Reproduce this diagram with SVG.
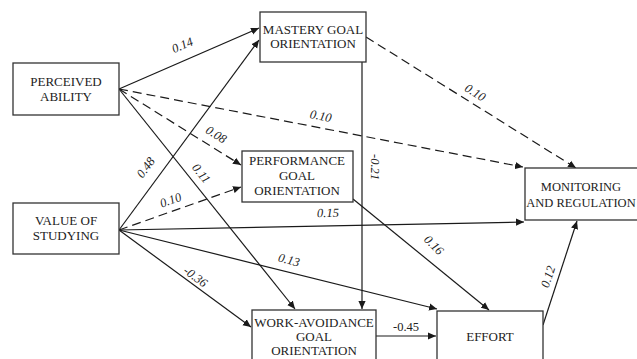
<svg xmlns="http://www.w3.org/2000/svg" width="637" height="359" viewBox="0 0 637 359">
<defs>
<marker id="ah" viewBox="0 0 10 10" refX="10" refY="5" markerWidth="8" markerHeight="8" markerUnits="userSpaceOnUse" orient="auto">
<path d="M0,0.5 L10,5 L0,9.5 Z" fill="#1a1a1a"/>
</marker>
<style>
.box{fill:#fff;stroke:#333;stroke-width:1.3}
.t{font-family:"Liberation Serif","Times New Roman",serif;font-size:13px;fill:#222;text-anchor:middle}
.l{font-family:"Liberation Serif","Times New Roman",serif;font-size:12.5px;fill:#222;text-anchor:middle;font-style:italic}
.s{fill:none;stroke:#1a1a1a;stroke-width:1.2;marker-end:url(#ah)}
.d{fill:none;stroke:#1a1a1a;stroke-width:1.2;stroke-dasharray:9,5;marker-end:url(#ah)}
</style>
</defs>
<rect width="637" height="359" fill="#fff"/>
<g id="connectors">
<line class="s" x1="119" y1="89" x2="259" y2="28"/>
<line class="d" x1="119" y1="89" x2="523" y2="167"/>
<line class="d" x1="119" y1="89" x2="241" y2="165"/>
<line class="s" x1="119" y1="89" x2="295" y2="309"/>
<line class="s" x1="119" y1="230" x2="259" y2="40"/>
<line class="d" x1="119" y1="230" x2="241" y2="187"/>
<line class="s" x1="119" y1="230" x2="524" y2="222"/>
<line class="s" x1="119" y1="230" x2="437" y2="309"/>
<line class="s" x1="119" y1="230" x2="251" y2="327"/>
<line class="d" x1="366" y1="37" x2="576" y2="168"/>
<line class="s" x1="362" y1="62" x2="362" y2="309"/>
<line class="s" x1="353" y1="199" x2="489" y2="310"/>
<line class="s" x1="376" y1="336" x2="436" y2="336"/>
<line class="s" x1="543" y1="325" x2="577" y2="221"/>
<text class="l" transform="translate(184,49) rotate(-23)">0.14</text>
<text class="l" transform="translate(320,120) rotate(11)">0.10</text>
<text class="l" transform="translate(214,138) rotate(32)">0.08</text>
<text class="l" transform="translate(198,176) rotate(51)">0.11</text>
<text class="l" transform="translate(149,170) rotate(-53)">0.48</text>
<text class="l" transform="translate(172,204) rotate(-20)">0.10</text>
<text class="l" transform="translate(328,217) rotate(-1)">0.15</text>
<text class="l" transform="translate(288,264) rotate(14)">0.13</text>
<text class="l" transform="translate(193,280) rotate(37)">-0.36</text>
<text class="l" transform="translate(473,96) rotate(32)">0.10</text>
<text class="l" transform="translate(371,167) rotate(90)">-0.21</text>
<text class="l" transform="translate(431,248) rotate(45)">0.16</text>
<text class="t" x="406" y="331" style="font-size:12.5px">-0.45</text>
<text class="l" transform="translate(552,278) rotate(-72)">0.12</text>
</g>
<g id="perceived-ability">
<rect class="box" x="13" y="63" width="106" height="52"/>
<text class="t" x="66" y="86">PERCEIVED</text>
<text class="t" x="66" y="101">ABILITY</text>
</g>
<g id="mastery">
<rect class="box" x="260" y="12" width="106" height="50"/>
<text class="t" x="313" y="34">MASTERY GOAL</text>
<text class="t" x="313" y="48">ORIENTATION</text>
</g>
<g id="performance">
<rect class="box" x="242" y="151" width="111" height="51"/>
<text class="t" x="297" y="165">PERFORMANCE</text>
<text class="t" x="297" y="180">GOAL</text>
<text class="t" x="297" y="195">ORIENTATION</text>
</g>
<g id="value-of-studying">
<rect class="box" x="13" y="203" width="106" height="51"/>
<text class="t" x="66" y="225">VALUE OF</text>
<text class="t" x="66" y="240">STUDYING</text>
</g>
<g id="work-avoidance">
<rect class="box" x="252" y="310" width="124" height="60"/>
<text class="t" x="314" y="327">WORK-AVOIDANCE</text>
<text class="t" x="314" y="341">GOAL</text>
<text class="t" x="314" y="355">ORIENTATION</text>
</g>
<g id="effort">
<rect class="box" x="437" y="311" width="106" height="60"/>
<text class="t" x="490" y="341">EFFORT</text>
</g>
<g id="monitoring">
<rect class="box" x="525" y="168" width="125" height="52"/>
<text class="t" x="581" y="191" style="font-size:12.5px">MONITORING</text>
<text class="t" x="581" y="207" style="font-size:12.5px">AND REGULATION</text>
</g>
</svg>
